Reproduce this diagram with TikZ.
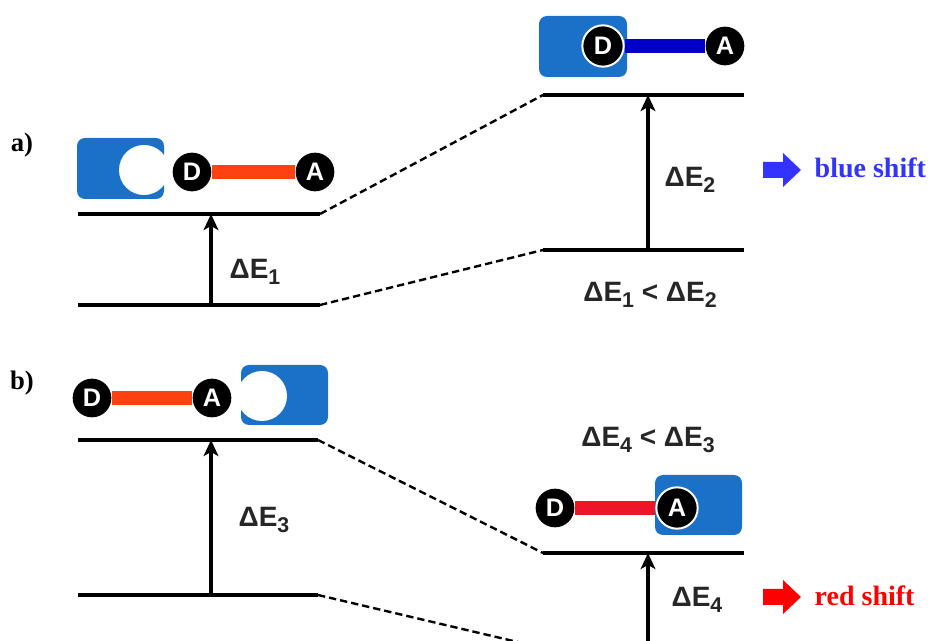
\documentclass[tikz,border=0pt]{standalone}
\usepackage{fontspec}
\setmainfont{Liberation Serif}
\setsansfont{Liberation Sans}
\usetikzlibrary{arrows.meta}
\definecolor{boxblue}{RGB}{27,112,200}
\definecolor{linkorange}{RGB}{255,64,16}
\definecolor{linkblue}{RGB}{0,0,200}
\definecolor{linkred}{RGB}{236,22,40}
\definecolor{shiftblue}{RGB}{51,51,255}
\definecolor{shiftred}{RGB}{255,0,0}
\newcommand{\dE}[1]{ΔE\raisebox{-0.45ex}{\fontsize{16}{16}\selectfont #1}}
\begin{document}
\begin{tikzpicture}[x=0.75pt,y=-0.75pt,
  level/.style={line width=3.6pt},
  gapline/.style={line width=1.8pt, dash pattern=on 5.5pt off 3pt},
  excite/.style={line width=2.5pt,-{Stealth[length=12pt,width=11pt,inset=3pt]}},
  atom/.style={circle, fill=black, draw=white, line width=1pt, minimum size=29pt, inner sep=0pt, text=white, font=\sffamily\bfseries\fontsize{19}{19}\selectfont},
  bond/.style={line width=#1},
  hostbox/.style={fill=boxblue, rounded corners=6pt},
  dlabel/.style={font=\sffamily\bfseries\fontsize{21}{21}\selectfont, text=black!85},
  shiftlabel/.style={anchor=west, font=\rmfamily\bfseries\fontsize{21}{21}\selectfont},
  panel/.style={font=\rmfamily\bfseries\fontsize{20}{20}\selectfont}
]
\useasboundingbox (0,0) rectangle (933,641);
\clip (0,0) rectangle (933,641);

% ---------- panel a ----------
\node[panel] (pa) at (22,145) {a)};
\coordinate (a1L) at (78,214);  \coordinate (a1R) at (320,214);
\coordinate (a0L) at (78,305);  \coordinate (a0R) at (320,305);
\coordinate (a3L) at (543,95);  \coordinate (a3R) at (744,95);
\coordinate (a2L) at (543,250); \coordinate (a2R) at (744,250);
\coordinate (a1m) at (211,214); \coordinate (a0m) at (211,305);
\coordinate (a3m) at (648,95);  \coordinate (a2m) at (648,250);
\draw[level] (a1L) -- (a1R);
\draw[level] (a0L) -- (a0R);
\draw[level] (a3L) -- (a3R);
\draw[level] (a2L) -- (a2R);
\draw[gapline] (a1R) -- (a3L);
\draw[gapline] (a0R) -- (a2L);
\draw[excite] (a0m) -- (a1m);
\draw[excite] (a2m) -- (a3m);
\node[dlabel] (e1) at (255,272) {\dE{1}};
\node[dlabel] (e2) at (690,180) {\dE{2}};
\node[dlabel] (e12) at (650,295) {\dE{1} < \dE{2}};

% host and dyad, a left
\fill[hostbox] (77,138) rectangle (164,199);
\fill[white] (144,170) circle (18.75pt);
\node[atom, draw=none] (aD1) at (192,172) {D};
\node[atom, draw=none] (aA1) at (315,172) {A};
\draw[bond=10.5pt, linkorange] (aD1) -- (aA1);

% host and dyad, a right
\fill[hostbox] (539,16) rectangle (627,77);
\node[atom, line width=1.5pt, minimum size=31pt] (aD2) at (603,46) {D};
\node[atom, draw=none] (aA2) at (725,46) {A};
\draw[bond=11pt, linkblue] (aD2) -- (aA2);

% blue shift
\fill[shiftblue] (763,162) -- (783,162) -- (783,153) -- (801,170) -- (783,187) -- (783,178) -- (763,178) -- cycle;
\node[shiftlabel, text=shiftblue] (bs) at (810,168) {blue shift};

% ---------- panel b ----------
\node[panel] (pb) at (22,383) {b)};
\coordinate (b1L) at (78,440);  \coordinate (b1R) at (318,440);
\coordinate (b0L) at (78,595);  \coordinate (b0R) at (318,595);
\coordinate (b3L) at (543,553); \coordinate (b3R) at (744,553);
\coordinate (b2L) at (543,648); \coordinate (b2R) at (744,648);
\coordinate (b1m) at (211,440); \coordinate (b0m) at (211,595);
\coordinate (b3m) at (648,553); \coordinate (b2m) at (648,648);
\draw[level] (b1L) -- (b1R);
\draw[level] (b0L) -- (b0R);
\draw[level] (b3L) -- (b3R);
\draw[level] (b2L) -- (b2R);
\draw[gapline] (b1R) -- (b3L);
\draw[gapline] (b0R) -- (b2L);
\draw[excite] (b0m) -- (b1m);
\draw[excite] (b2m) -- (b3m);
\node[dlabel] (e3) at (264,520) {\dE{3}};
\node[dlabel] (e4) at (697,600) {\dE{4}};
\node[dlabel] (e43) at (648,440) {\dE{4} < \dE{3}};

% host and dyad, b left
\fill[hostbox] (241,365) rectangle (328,425);
\fill[white] (262,396) circle (18.75pt);
\node[atom, draw=none] (bD1) at (92,398) {D};
\node[atom, draw=none] (bA1) at (212,398) {A};
\draw[bond=10.5pt, linkorange] (bD1) -- (bA1);

% host and dyad, b right
\fill[hostbox] (655,475) rectangle (742,535);
\node[atom, draw=none] (bD2) at (555,508) {D};
\node[atom, line width=1.5pt, minimum size=31pt] (bA2) at (677,508) {A};
\draw[bond=11pt, linkred] (bD2) -- (bA2);

% red shift
\fill[shiftred] (763,589) -- (783,589) -- (783,580) -- (801,597) -- (783,614) -- (783,605) -- (763,605) -- cycle;
\node[shiftlabel, text=shiftred] (rs) at (810,596) {red shift};
\end{tikzpicture}
\end{document}
